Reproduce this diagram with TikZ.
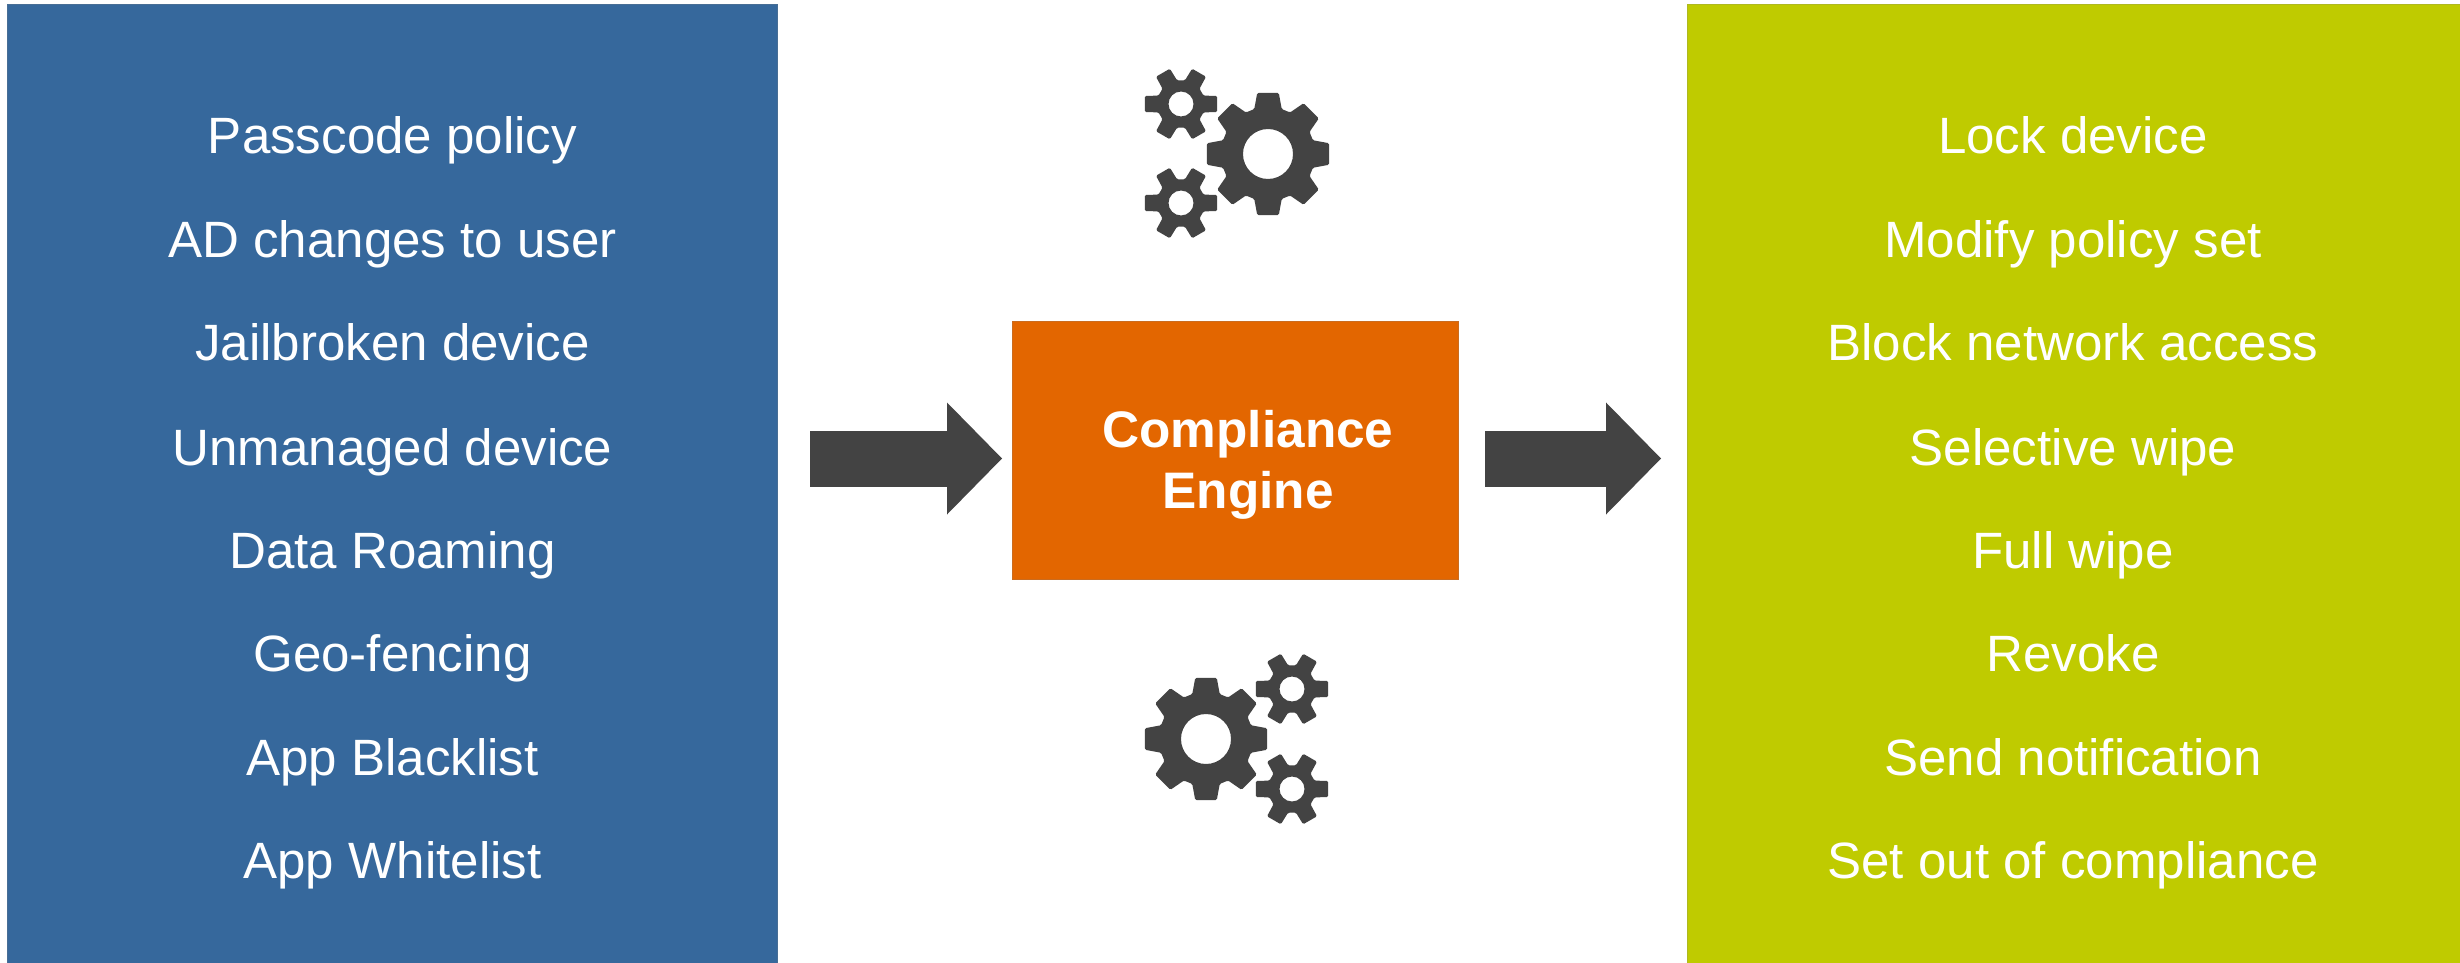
\documentclass[tikz,border=0pt]{standalone}
\usepackage{fontspec}
\setmainfont{Liberation Sans}
\usetikzlibrary{arrows.meta}
\definecolor{panelblue}{RGB}{54,104,156}
\definecolor{panelolive}{RGB}{191,203,0}
\definecolor{engineorange}{RGB}{227,102,0}
\definecolor{cogdark}{RGB}{67,67,67}
\tikzset{
  panel/.style={draw=#1!75!gray,fill=#1,line width=0.75pt,inner sep=0pt},
  listitem/.style={text=white,anchor=base,inner sep=0.75pt,font=\fontsize{38.3}{46}\selectfont},
  blockarrow/.style={draw=cogdark,line width=42pt,-{Triangle[length=41.25pt,width=84pt,line width=0pt,fill=cogdark]}},
}
% centre x, centre y, teeth, tip radius, root radius, tip half angle, base half angle, hole radius
\newcommand{\cogwheel}[8]{
\fill [cogdark,even odd rule,rounded corners=1pt]
  ({#1+#4*cos(#6)},{#2+#4*sin(#6)})
  \foreach \i in {1,...,#3} {
    -- ({#1+#5*cos((\i-1)*360/#3+#7)},{#2+#5*sin((\i-1)*360/#3+#7)})
    -- ({#1+#5*cos(\i*360/#3-#7)},{#2+#5*sin(\i*360/#3-#7)})
    -- ({#1+#4*cos(\i*360/#3-#6)},{#2+#4*sin(\i*360/#3-#6)})
    -- ({#1+#4*cos(\i*360/#3+#6)},{#2+#4*sin(\i*360/#3+#6)})
  } -- cycle
  [sharp corners] (#1+#8,#2) arc (0:360:#8) ;
}
\newcommand{\biggear}[2]{\cogwheel{#1}{#2}{8}{62}{47}{10}{17}{25}}
\newcommand{\smallgear}[2]{\cogwheel{#1}{#2}{6}{37}{24}{12.5}{20.5}{12.5}}
\begin{document}
\begin{tikzpicture}[x=0.75pt,y=0.75pt,yscale=-1,xscale=1]
\useasboundingbox (0,0) rectangle (2460,963);
\fill [white] (0,0) rectangle (2460,963);
% panels
\node (policies) [panel=panelblue,anchor=north west,minimum width=577.5pt,minimum height=720pt] at (7,4) {};
\node (actions) [panel=panelolive,anchor=north west,minimum width=580.5pt,minimum height=720pt] at (1687,4) {};
\node (engine) [panel=engineorange,anchor=north west,minimum width=334.5pt,minimum height=193.5pt] at (1012,321) {};
\node (enginetext) [align=center,text=white,inner sep=0.75pt,font=\fontsize{38.5}{46.2}\bfseries\selectfont] at (1248,465) {Compliance\\Engine};
% items on the left
\node (passcode) [listitem] at (392.5,153.5) {Passcode policy};
\node (adchanges) [listitem] at (392.5,257.5) {AD changes to user};
\node (jailbroken) [listitem] at (392.5,360.5) {Jailbroken device};
\node (unmanaged) [listitem] at (392.5,465) {Unmanaged device};
\node (roaming) [listitem] at (392.5,568.5) {Data Roaming};
\node (geofencing) [listitem] at (392.5,671.5) {Geo-fencing};
\node (blacklist) [listitem] at (392.5,775) {App Blacklist};
\node (whitelist) [listitem] at (392.5,878.5) {App Whitelist};
% items on the right
\node (lockdev) [listitem] at (2073,153.5) {Lock device};
\node (modify) [listitem] at (2073,257.5) {Modify policy set};
\node (blocknet) [listitem] at (2073,360.5) {Block network access};
\node (selective) [listitem] at (2073,465) {Selective wipe};
\node (fullwipe) [listitem] at (2073,568.5) {Full wipe};
\node (revoke) [listitem] at (2073,671.5) {Revoke};
\node (sendnote) [listitem] at (2073,775) {Send notification};
\node (setout) [listitem] at (2073,878.5) {Set out of compliance};
% arrows
\coordinate (flow) at (0,458.5);
\draw [blockarrow,shorten <=24pt,shorten >=7.5pt] (policies.east |- flow) -- (engine.west |- flow);
\draw [blockarrow,shorten <=19.5pt,shorten >=19.5pt] (engine.east |- flow) -- (actions.west |- flow);
% gears
\biggear{1268}{154}
\smallgear{1181}{104}
\smallgear{1181}{203}
\biggear{1206}{739}
\smallgear{1292}{689}
\smallgear{1292}{789}
\end{tikzpicture}
\end{document}
